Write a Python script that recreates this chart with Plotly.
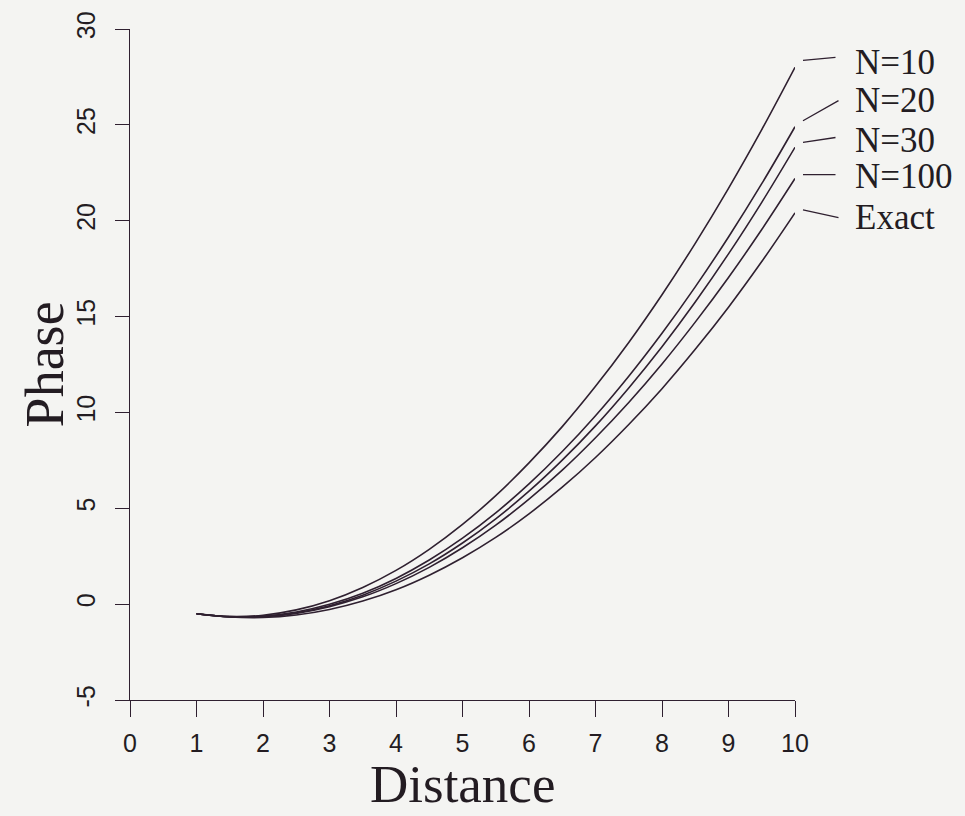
import plotly.graph_objects as go

# Distance samples (x axis)
distance = [1.0, 1.5, 2.0, 2.5, 3.0, 3.5, 4.0, 4.5, 5.0, 5.5,
            6.0, 6.5, 7.0, 7.5, 8.0, 8.5, 9.0, 9.5, 10.0]

# Phase values
phase_n10 = [-0.50, -0.64, -0.58, -0.30, 0.18, 0.87, 1.76, 2.86, 4.16, 5.66,
             7.37, 9.26, 11.36, 13.65, 16.14, 18.82, 21.69, 24.75, 28.00]
phase_n20 = [-0.50, -0.66, -0.63, -0.41, -0.01, 0.57, 1.34, 2.30, 3.44, 4.76,
             6.27, 7.96, 9.83, 11.89, 14.13, 16.55, 19.15, 21.93, 24.90]
phase_n30 = [-0.50, -0.66, -0.64, -0.45, -0.08, 0.47, 1.20, 2.10, 3.19, 4.45,
             5.89, 7.51, 9.30, 11.28, 13.43, 15.76, 18.27, 20.96, 23.83]
phase_n100 = [-0.50, -0.66, -0.66, -0.48, -0.13, 0.38, 1.07, 1.92, 2.94, 4.12,
              5.48, 6.99, 8.68, 10.52, 12.53, 14.71, 17.04, 19.54, 22.20]
phase_exact = [-0.50, -0.67, -0.70, -0.57, -0.28, 0.16, 0.75, 1.51, 2.42, 3.48,
               4.71, 6.10, 7.65, 9.37, 11.24, 13.29, 15.49, 17.87, 20.41]

series_names = ["N=10", "N=20", "N=30", "N=100", "Exact"]
series_values = [phase_n10, phase_n20, phase_n30, phase_n100, phase_exact]

x_ticks = [0, 1, 2, 3, 4, 5, 6, 7, 8, 9, 10]
y_ticks = [-5, 0, 5, 10, 15, 20, 25, 30]

INK = "#2f2030"
TEXT = "#231c22"
BG = "#f4f4f2"

# label placement (styling): offsets of leader line / label text in pixels
leader_shift = [(8, 7), (8, 6), (8, 5), (8, 4), (8, 3)]
leader_tail = [(34, -3), (37, -21), (34, -5), (34, 0), (37, 8)]
label_dy = [5, 26, 7, 2, -5]  # label centre above curve end, pixels

fig = go.Figure()
for name, vals in zip(series_names, series_values):
    fig.add_trace(go.Scatter(
        x=distance, y=vals, mode="lines", name=name,
        line=dict(color=INK, width=1.6, shape="spline"),
        showlegend=False, cliponaxis=False,
    ))

annotations = []
for name, vals, (xs, ys), (ax, ay), dy in zip(series_names, series_values,
                                              leader_shift, leader_tail, label_dy):
    annotations.append(dict(
        x=distance[-1], y=vals[-1], xref="x", yref="y", text="",
        showarrow=True, arrowhead=0, arrowwidth=1.3, arrowcolor=INK,
        ax=ax, ay=ay, xshift=xs, yshift=ys,
    ))
    annotations.append(dict(
        x=distance[-1], y=vals[-1], xref="x", yref="y", text=name,
        showarrow=False, xanchor="left", yanchor="middle",
        xshift=58, yshift=dy,
        font=dict(family="Liberation Serif", size=35, color=TEXT),
    ))

annotations.append(dict(
    x=-0.128, y=0.5, xref="paper", yref="paper", text="Phase",
    textangle=-90, showarrow=False, xanchor="center", yanchor="middle",
    font=dict(family="Liberation Serif", size=54, color=TEXT),
))
annotations.append(dict(
    x=0.5, y=-0.172, xref="paper", yref="paper", text="Distance",
    showarrow=False, xanchor="center", yanchor="bottom",
    font=dict(family="Liberation Serif", size=53, color=TEXT),
))

fig.update_layout(
    width=965, height=816,
    margin=dict(l=130, r=170, t=29, b=116),
    paper_bgcolor=BG, plot_bgcolor=BG,
    annotations=annotations,
    xaxis=dict(
        range=[0, 10], tickvals=x_ticks, ticktext=[str(v) for v in x_ticks],
        showgrid=False, zeroline=False, showline=True, linecolor=INK, linewidth=1.4,
        ticks="outside", ticklen=16, tickwidth=1.4, tickcolor=INK,
        tickfont=dict(family="Liberation Sans", size=25, color=TEXT),
        ticklabelstandoff=5,
    ),
    yaxis=dict(
        range=[-5, 30], tickvals=y_ticks, ticktext=[str(v) for v in y_ticks],
        showgrid=False, zeroline=False, showline=True, linecolor=INK, linewidth=1.4,
        ticks="outside", ticklen=14, tickwidth=1.4, tickcolor=INK,
        tickangle=-90,
        tickfont=dict(family="Liberation Sans", size=25, color=TEXT),
        ticklabelstandoff=10,
    ),
)

fig.write_html("out.html")
